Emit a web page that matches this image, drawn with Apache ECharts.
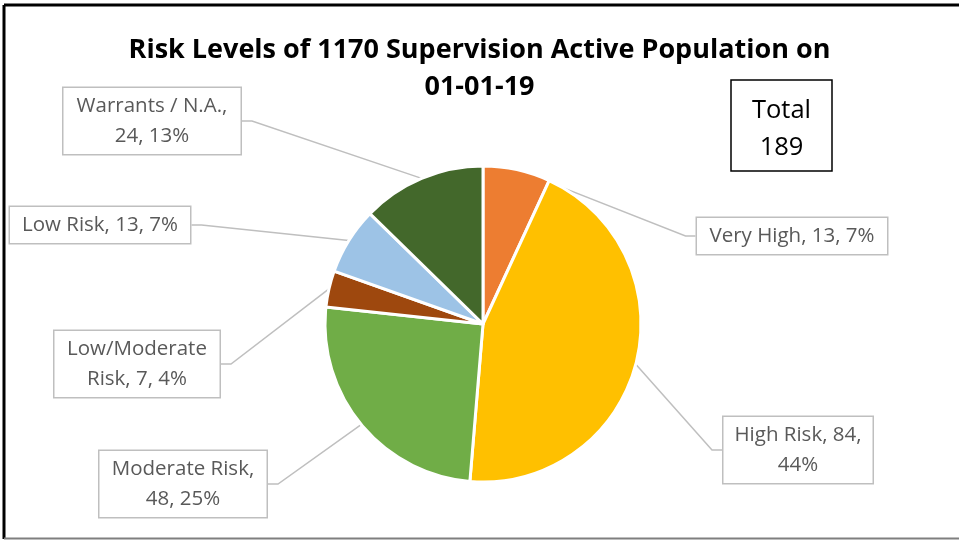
<!DOCTYPE html>
<html>
<head>
<meta charset="utf-8">
<script src="https://cdn.jsdelivr.net/npm/echarts@6/dist/echarts.min.js"></script>
<style>
html,body{margin:0;padding:0;background:#fff;}
#chart{width:959px;height:540px;}
</style>
</head>
<body>
<div id="chart"></div>
<script>
// ---- Data ----
const categories = ['Very High', 'High Risk', 'Moderate Risk', 'Low/Moderate Risk', 'Low Risk', 'Warrants / N.A.'];
const values = [13, 84, 48, 7, 13, 24];
const titleLines = ['Risk Levels of 1170 Supervision Active Population on', '01-01-19'];
const totalLabel = 'Total';

// ---- Style ----
const colors = ['#ED7D31', '#FFC000', '#70AD47', '#9E480E', '#9DC3E6', '#43682B'];
// label text templates (where the lines wrap) and label box centres
const labelTemplates = [
  '{n}, {v}, {p}%',
  '{n}, {v},\n{p}%',
  '{n},\n{v}, {p}%',
  'Low/Moderate\nRisk, {v}, {p}%',
  '{n}, {v}, {p}%',
  '{n},\n{v}, {p}%'
];
const labelCenters = [[792, 236], [798, 450], [183, 484], [137, 364], [100, 225], [152, 121]];
const labelBoxW = [190, 149, 167, 165, 180, 177];

const total = values.reduce((a, b) => a + b, 0);
const FONT = '"Open Sans", sans-serif';

const chart = echarts.init(document.getElementById('chart'), null, {renderer: 'canvas'});
chart.setOption({
  backgroundColor: '#fff',
  animation: false,
  title: {
    text: titleLines.join('\n'),
    left: 'center',
    top: 27,
    textStyle: {fontFamily: FONT, fontWeight: 'bold', fontSize: 27, color: '#000', lineHeight: 37}
  },
  graphic: [
    {type: 'line', shape: {x1: 4, y1: 5, x2: 959, y2: 5}, style: {stroke: '#000', lineWidth: 3}},
    {type: 'line', shape: {x1: 4, y1: 5, x2: 4, y2: 539}, style: {stroke: '#000', lineWidth: 3}},
    {type: 'line', shape: {x1: 4, y1: 538.5, x2: 959, y2: 538.5}, style: {stroke: '#7f7f7f', lineWidth: 2}},
    {type: 'rect', shape: {x: 731, y: 80, width: 101, height: 91}, style: {fill: '#fff', stroke: '#000', lineWidth: 1.5}},
    {type: 'text', x: 781.5, y: 129, style: {text: totalLabel + '\n' + total, fontFamily: FONT, fontSize: 25.5, lineHeight: 37, fill: '#000', align: 'center', verticalAlign: 'middle'}}
  ],
  series: [{
    type: 'pie',
    center: [483, 324],
    radius: [0, 158],
    startAngle: 90,
    clockwise: true,
    avoidLabelOverlap: false,
    data: categories.map((c, i) => ({
      name: c,
      value: values[i],
      itemStyle: {color: colors[i]},
      label: {width: labelBoxW[i] - 16}
    })),
    itemStyle: {borderColor: '#fff', borderWidth: 3},
    label: {
      show: true,
      position: 'outside',
      fontFamily: FONT,
      fontSize: 20.5,
      lineHeight: 30,
      color: '#595959',
      align: 'center',
      backgroundColor: '#fff',
      borderColor: '#bfbfbf',
      borderWidth: 1.5,
      padding: [3, 8],
      overflow: 'none',
      formatter: p => labelTemplates[p.dataIndex]
        .replace('{n}', p.name)
        .replace('{v}', p.value)
        .replace('{p}', Math.round(p.value / total * 100))
    },
    labelLine: {show: true, length: 10, length2: 10, lineStyle: {color: '#bfbfbf', width: 1.5}},
    labelLayout: p => ({
      x: labelCenters[p.dataIndex][0],
      y: labelCenters[p.dataIndex][1],
      align: 'center',
      verticalAlign: 'middle'
    })
  }]
});
</script>
</body>
</html>
